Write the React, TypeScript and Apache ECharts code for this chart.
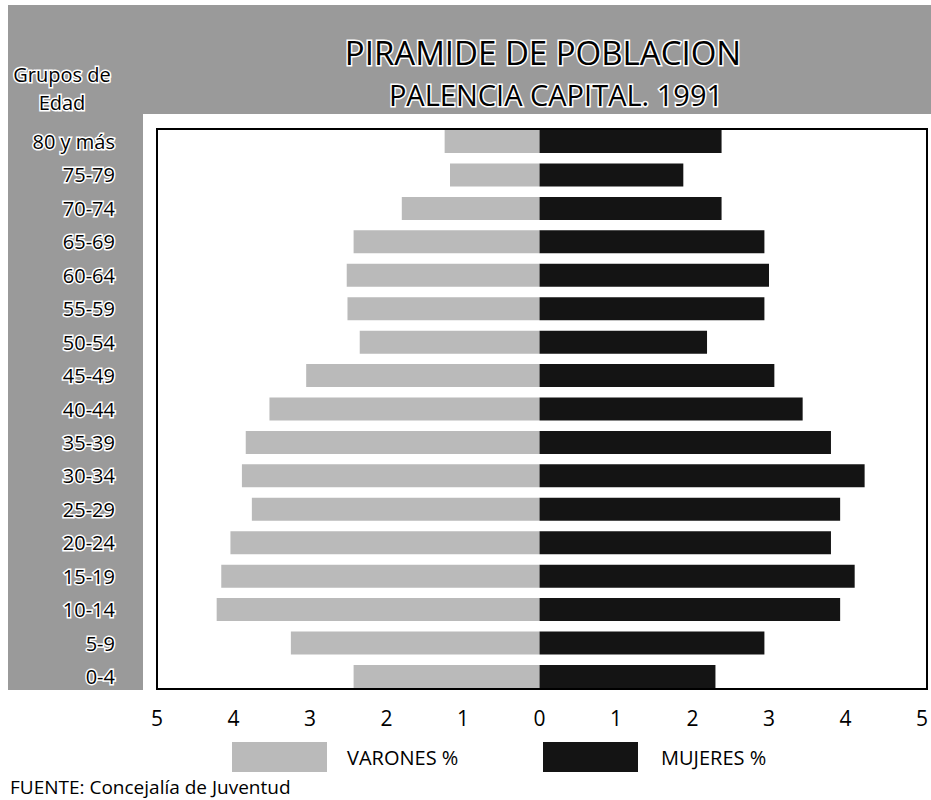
import React, { useEffect, useRef } from "react";
import * as echarts from "echarts";

const ageGroups = [
  "80 y más", "75-79", "70-74", "65-69", "60-64", "55-59", "50-54", "45-49",
  "40-44", "35-39", "30-34", "25-29", "20-24", "15-19", "10-14", "5-9", "0-4",
];
const varones = [1.24, 1.17, 1.80, 2.43, 2.52, 2.51, 2.35, 3.05, 3.53, 3.84, 3.89, 3.76, 4.04, 4.16, 4.22, 3.25, 2.43];
const mujeres = [2.38, 1.88, 2.38, 2.94, 3.00, 2.94, 2.19, 3.07, 3.44, 3.81, 4.25, 3.93, 3.81, 4.12, 3.93, 2.94, 2.30];
const xTicks = [-5, 5, 1];

const FONT = "'Open Sans', 'Noto Sans', sans-serif";
const BG_GRAY = "#9a9a9a";
const MALE = "#bababa";
const FEMALE = "#141414";

export default function App() {
  const ref = useRef<HTMLDivElement>(null);
  useEffect(() => {
    if (!ref.current) return;
    const chart = echarts.init(ref.current, undefined, { renderer: "svg" });
    const halo = { textBorderColor: "#ffffff", textBorderWidth: 3 };
    chart.setOption({
      animation: false,
      backgroundColor: "#ffffff",
      graphic: [
        { type: "rect", z: -10, shape: { x: 8, y: 5, width: 923, height: 109 }, style: { fill: BG_GRAY } },
        { type: "rect", z: -10, shape: { x: 8, y: 114, width: 135, height: 576 }, style: { fill: BG_GRAY } },
        { type: "rect", z: 10, shape: { x: 157, y: 129, width: 770, height: 560 }, style: { fill: "none", stroke: "#000", lineWidth: 2 } },
        { type: "text", x: 543, y: 52, style: { text: "PIRAMIDE DE POBLACION", font: `33px ${FONT}`, fill: "#000", align: "center", verticalAlign: "middle", stroke: "#fff", lineWidth: 3 } },
        { type: "text", x: 556, y: 94.5, style: { text: "PALENCIA CAPITAL. 1991", font: `29px ${FONT}`, fill: "#000", align: "center", verticalAlign: "middle", stroke: "#fff", lineWidth: 3 } },
        { type: "text", x: 62, y: 74.5, style: { text: "Grupos de", font: `20px ${FONT}`, fill: "#000", align: "center", verticalAlign: "middle", stroke: "#fff", lineWidth: 3 } },
        { type: "text", x: 62, y: 102.5, style: { text: "Edad", font: `20px ${FONT}`, fill: "#000", align: "center", verticalAlign: "middle", stroke: "#fff", lineWidth: 3 } },
        { type: "text", x: 10, y: 787, style: { text: "FUENTE: Concejalía de Juventud", font: `19px ${FONT}`, fill: "#000", align: "left", verticalAlign: "middle" } },
      ],
      legend: [
        {
          data: ["VARONES %"], left: 227, top: 737, itemWidth: 95, itemHeight: 30, icon: "rect",
          textStyle: { fontFamily: FONT, fontSize: 20, color: "#000", padding: [0, 0, 0, 15] },
        },
        {
          data: ["MUJERES %"], left: 538, top: 737, itemWidth: 95, itemHeight: 30, icon: "rect",
          textStyle: { fontFamily: FONT, fontSize: 20, color: "#000", padding: [0, 0, 0, 18] },
        },
      ],
      grid: { left: 157, width: 770, top: 124.8, height: 568.4, containLabel: false },
      xAxis: {
        type: "value", min: xTicks[0], max: xTicks[1], interval: xTicks[2],
        axisLine: { show: false }, axisTick: { show: false }, splitLine: { show: false },
        axisLabel: { formatter: (v: number) => String(Math.abs(v)), fontFamily: FONT, fontSize: 21, color: "#000", margin: 14 },
      },
      yAxis: {
        type: "category", data: ageGroups, inverse: true,
        axisLine: { show: false }, axisTick: { show: false }, splitLine: { show: false },
        axisLabel: { fontFamily: FONT, fontSize: 20, color: "#000", margin: 42, ...halo },
      },
      series: [
        {
          name: "VARONES %", type: "bar", stack: "p", barWidth: 23,
          data: varones.map((v) => -v),
          itemStyle: { color: MALE },
        },
        {
          name: "MUJERES %", type: "bar", stack: "p", barWidth: 23,
          data: mujeres,
          itemStyle: { color: FEMALE },
        },
      ],
    });
    return () => chart.dispose();
  }, []);
  return <div ref={ref} style={{ position: "absolute", left: 0, top: 0, width: 931, height: 800 }} />;
}
